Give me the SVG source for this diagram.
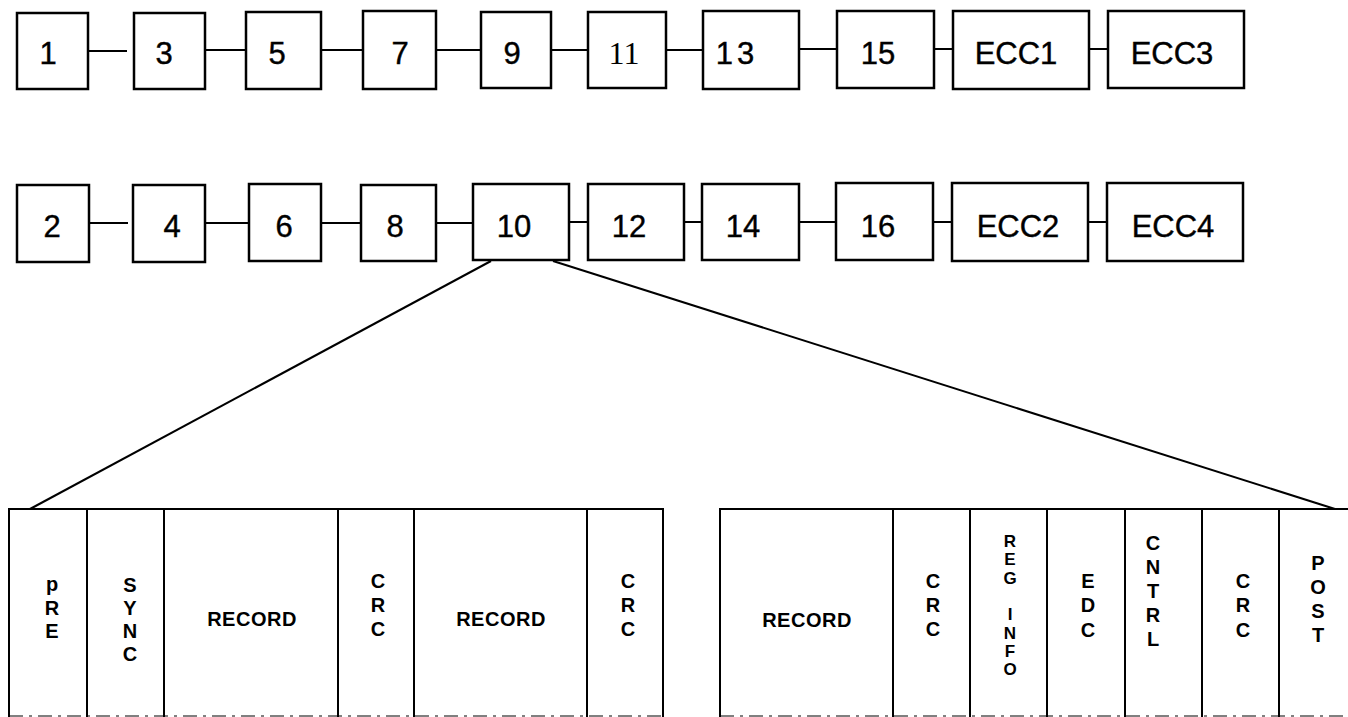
<svg xmlns="http://www.w3.org/2000/svg" width="1348" height="717" viewBox="0 0 1348 717">
<style>
.box{fill:#fff;stroke:#000;stroke-width:2.5}
.lbl{font-family:"Liberation Sans",Arial,sans-serif;font-size:31px;fill:#000;stroke:#000;stroke-width:0.4;text-anchor:middle}
.ser{font-family:"Liberation Serif","Times New Roman",serif;font-size:32px;fill:#000;text-anchor:middle}
.con{stroke:#000;stroke-width:2;fill:none}
.cell{stroke:#000;stroke-width:2;fill:none}
.ct{font-family:"Liberation Sans",Arial,sans-serif;font-size:20px;font-weight:bold;fill:#000;text-anchor:middle}
.cs{font-family:"Liberation Sans",Arial,sans-serif;font-size:17px;font-weight:bold;fill:#000;text-anchor:middle}
</style>
<rect width="1348" height="717" fill="#fff"/>
<g id="connectors">
<line class="con" x1="88" y1="51" x2="127" y2="51"/>
<line class="con" x1="205" y1="50" x2="246" y2="50"/>
<line class="con" x1="321" y1="50" x2="363" y2="50"/>
<line class="con" x1="436" y1="50" x2="481" y2="50"/>
<line class="con" x1="551" y1="50" x2="588" y2="50"/>
<line class="con" x1="666" y1="50" x2="703" y2="50"/>
<line class="con" x1="799" y1="49" x2="837" y2="49"/>
<line class="con" x1="934" y1="49" x2="953" y2="49"/>
<line class="con" x1="1089" y1="49" x2="1108" y2="49"/>
<line class="con" x1="89" y1="223" x2="128" y2="223"/>
<line class="con" x1="205" y1="223" x2="249" y2="223"/>
<line class="con" x1="321" y1="223" x2="361" y2="223"/>
<line class="con" x1="436" y1="223" x2="473" y2="223"/>
<line class="con" x1="569" y1="222" x2="588" y2="222"/>
<line class="con" x1="684" y1="222" x2="702" y2="222"/>
<line class="con" x1="799" y1="222" x2="836" y2="222"/>
<line class="con" x1="933" y1="222" x2="952" y2="222"/>
<line class="con" x1="1088" y1="222" x2="1107" y2="222"/>
<line class="con" x1="491" y1="261" x2="30" y2="509"/>
<line class="con" x1="553" y1="261" x2="1335" y2="509"/>
</g>
<g id="n1"><rect class="box" x="17" y="13" width="71" height="76"/><text class="lbl" x="48" y="64">1</text></g>
<g id="n3"><rect class="box" x="134" y="13" width="71" height="76"/><text class="lbl" x="164" y="64">3</text></g>
<g id="n5"><rect class="box" x="246" y="12" width="75" height="77"/><text class="lbl" x="277" y="64">5</text></g>
<g id="n7"><rect class="box" x="363" y="11" width="73" height="78"/><text class="lbl" x="400" y="64">7</text></g>
<g id="n9"><rect class="box" x="481" y="12" width="70" height="76"/><text class="lbl" x="512" y="64">9</text></g>
<g id="n11"><rect class="box" x="588" y="12" width="78" height="76"/><text class="ser" x="624" y="64">11</text></g>
<g id="n13"><rect class="box" x="703" y="11" width="96" height="78"/><text class="lbl" x="737" y="64" letter-spacing="4">13</text></g>
<g id="n15"><rect class="box" x="837" y="11" width="97" height="77"/><text class="lbl" x="878" y="64">15</text></g>
<g id="necc1"><rect class="box" x="953" y="11" width="136" height="78"/><text class="lbl" x="1016" y="64">ECC1</text></g>
<g id="necc3"><rect class="box" x="1108" y="11" width="136" height="77"/><text class="lbl" x="1172" y="64">ECC3</text></g>
<g id="n2"><rect class="box" x="17" y="185" width="72" height="77"/><text class="lbl" x="52" y="237">2</text></g>
<g id="n4"><rect class="box" x="133" y="185" width="72" height="77"/><text class="lbl" x="172" y="237">4</text></g>
<g id="n6"><rect class="box" x="249" y="184" width="72" height="77"/><text class="lbl" x="284" y="237">6</text></g>
<g id="n8"><rect class="box" x="361" y="185" width="75" height="76"/><text class="lbl" x="395" y="237">8</text></g>
<g id="n10"><rect class="box" x="473" y="184" width="96" height="76"/><text class="lbl" x="514" y="237">10</text></g>
<g id="n12"><rect class="box" x="588" y="184" width="96" height="76"/><text class="lbl" x="629" y="237">12</text></g>
<g id="n14"><rect class="box" x="702" y="184" width="97" height="76"/><text class="lbl" x="743" y="237">14</text></g>
<g id="n16"><rect class="box" x="836" y="183" width="97" height="77"/><text class="lbl" x="878" y="237">16</text></g>
<g id="necc2"><rect class="box" x="952" y="183" width="136" height="78"/><text class="lbl" x="1018" y="237">ECC2</text></g>
<g id="necc4"><rect class="box" x="1107" y="183" width="136" height="78"/><text class="lbl" x="1173" y="237">ECC4</text></g>
<g id="sector-left">
<path class="cell" d="M9,717 V509 H663 V717"/>
<line class="cell" x1="87" y1="509" x2="87" y2="717"/>
<line class="cell" x1="164" y1="509" x2="164" y2="717"/>
<line class="cell" x1="338" y1="509" x2="338" y2="717"/>
<line class="cell" x1="414" y1="509" x2="414" y2="717"/>
<line class="cell" x1="587" y1="509" x2="587" y2="717"/>
<line x1="9" y1="716" x2="663" y2="716" stroke="#000" stroke-width="1" stroke-dasharray="14 6 3 6"/>
<text class="ct" x="52"><tspan x="52" y="591">p</tspan><tspan x="52" y="615">R</tspan><tspan x="52" y="638">E</tspan></text>
<text class="ct" x="130"><tspan x="130" y="592">S</tspan><tspan x="130" y="615">Y</tspan><tspan x="130" y="638">N</tspan><tspan x="130" y="661">C</tspan></text>
<text class="ct" x="252" y="626" letter-spacing="0.5">RECORD</text>
<text class="ct" x="378"><tspan x="378" y="588">C</tspan><tspan x="378" y="612">R</tspan><tspan x="378" y="636">C</tspan></text>
<text class="ct" x="501" y="626" letter-spacing="0.5">RECORD</text>
<text class="ct" x="628"><tspan x="628" y="588">C</tspan><tspan x="628" y="612">R</tspan><tspan x="628" y="636">C</tspan></text>
</g>
<g id="sector-right">
<path class="cell" d="M720,717 V509 H1348"/>
<line class="cell" x1="893" y1="509" x2="893" y2="717"/>
<line class="cell" x1="970" y1="509" x2="970" y2="717"/>
<line class="cell" x1="1047" y1="509" x2="1047" y2="717"/>
<line class="cell" x1="1125" y1="509" x2="1125" y2="717"/>
<line class="cell" x1="1202" y1="509" x2="1202" y2="717"/>
<line class="cell" x1="1279" y1="509" x2="1279" y2="717"/>
<line x1="720" y1="716" x2="1348" y2="716" stroke="#000" stroke-width="1" stroke-dasharray="14 6 3 6"/>
<text class="ct" x="807" y="627" letter-spacing="0.5">RECORD</text>
<text class="ct" x="933"><tspan x="933" y="588">C</tspan><tspan x="933" y="612">R</tspan><tspan x="933" y="636">C</tspan></text>
<text class="cs" x="1010"><tspan x="1010" y="547">R</tspan><tspan x="1010" y="565">E</tspan><tspan x="1010" y="584">G</tspan><tspan x="1010" y="620">I</tspan><tspan x="1010" y="639">N</tspan><tspan x="1010" y="657">F</tspan><tspan x="1010" y="675">O</tspan></text>
<text class="ct" x="1088"><tspan x="1088" y="588">E</tspan><tspan x="1088" y="612">D</tspan><tspan x="1088" y="637">C</tspan></text>
<text class="ct" x="1153"><tspan x="1153" y="550">C</tspan><tspan x="1153" y="574">N</tspan><tspan x="1153" y="598">T</tspan><tspan x="1153" y="622">R</tspan><tspan x="1153" y="646">L</tspan></text>
<text class="ct" x="1243"><tspan x="1243" y="588">C</tspan><tspan x="1243" y="612">R</tspan><tspan x="1243" y="637">C</tspan></text>
<text class="ct" x="1318"><tspan x="1318" y="570">P</tspan><tspan x="1318" y="594">O</tspan><tspan x="1318" y="618">S</tspan><tspan x="1318" y="642">T</tspan></text>
</g>
</svg>
